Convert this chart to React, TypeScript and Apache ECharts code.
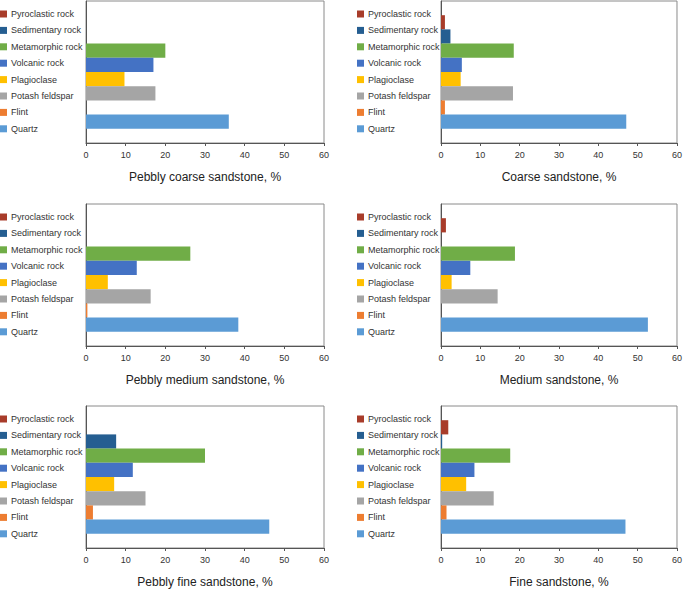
import React, { useEffect, useRef } from "react";
import * as echarts from "echarts";

const rockTypes = [
  "Pyroclastic rock",
  "Sedimentary rock",
  "Metamorphic rock",
  "Volcanic rock",
  "Plagioclase",
  "Potash feldspar",
  "Flint",
  "Quartz",
];

const rockColors = [
  "#A83C2A",
  "#255E91",
  "#70AD47",
  "#4472C4",
  "#FFC000",
  "#A5A5A5",
  "#ED7D31",
  "#5B9BD5",
];

const panelTitles = [
  "Pebbly coarse sandstone, %",
  "Coarse sandstone, %",
  "Pebbly medium sandstone, %",
  "Medium sandstone, %",
  "Pebbly fine sandstone, %",
  "Fine sandstone, %",
];

// values in rockTypes order
const pebblyCoarse = [0, 0, 20, 17, 9.7, 17.5, 0, 36];
const coarse = [1, 2.4, 18.5, 5.3, 5, 18.3, 1, 47.1];
const pebblyMedium = [0, 0, 26.3, 12.8, 5.5, 16.3, 0.35, 38.4];
const medium = [1.25, 0, 18.8, 7.45, 2.7, 14.4, 0, 52.6];
const pebblyFine = [0, 7.6, 30, 11.8, 7.1, 15, 1.75, 46.2];
const fine = [1.85, 0.3, 17.6, 8.5, 6.4, 13.4, 1.4, 46.9];

const panelValues = [pebblyCoarse, coarse, pebblyMedium, medium, pebblyFine, fine];

const xTicks = { min: 0, max: 60, interval: 10 };

export default function App() {
  const ref = useRef<HTMLDivElement>(null);

  useEffect(() => {
    if (!ref.current) return;
    const chart = echarts.init(ref.current, null, { renderer: "svg" });

    const rowTops = [1, 204, 406];
    const colLefts = [86, 441];
    const colWidths = [238, 239];
    const legendLefts = [0, 357];
    const plotH = 142;

    const grids: any[] = [];
    const xAxes: any[] = [];
    const yAxes: any[] = [];
    const legends: any[] = [];
    const series: any[] = [];

    panelValues.forEach((vals, p) => {
      const row = Math.floor(p / 2);
      const col = p % 2;
      grids.push({
        left: colLefts[col],
        top: rowTops[row],
        width: colWidths[col],
        height: plotH,
        show: true,
        borderColor: "#8a8a8a",
        borderWidth: 1,
        backgroundColor: "#fff",
        containLabel: false,
      });
      xAxes.push({
        type: "value",
        gridIndex: p,
        min: xTicks.min,
        max: xTicks.max,
        interval: xTicks.interval,
        name: panelTitles[p],
        nameLocation: "middle",
        nameGap: 28,
        nameTextStyle: { fontFamily: "Liberation Sans", fontSize: 12, color: "#222" },
        axisLine: { show: true, lineStyle: { color: "#555", width: 1 } },
        axisTick: { show: true, length: 3, lineStyle: { color: "#555" } },
        axisLabel: { fontFamily: "Liberation Sans", fontSize: 9, color: "#333", margin: 7 },
        splitLine: { show: false },
      });
      yAxes.push({
        type: "category",
        gridIndex: p,
        data: [""],
        axisLine: { show: true, lineStyle: { color: "#555", width: 1 } },
        axisTick: { show: false },
        axisLabel: { show: false },
        splitLine: { show: false },
      });
      legends.push({
        orient: "vertical",
        left: legendLefts[col],
        top: rowTops[row] + 8.5,
        itemWidth: 7,
        itemHeight: 7,
        itemGap: 7.4,
        icon: "rect",
        padding: 0,
        selectedMode: false,
        textStyle: { fontFamily: "Liberation Sans", fontSize: 9, color: "#333", padding: [0, 0, 0, -1] },
        data: rockTypes,
      });
      rockTypes.forEach((name, i) => {
        series.push({
          type: "bar",
          name,
          xAxisIndex: p,
          yAxisIndex: p,
          data: [vals[i]],
          barGap: "0%",
          barCategoryGap: "20%",
          itemStyle: { color: rockColors[i] },
          silent: true,
        });
      });
    });

    chart.setOption({
      animation: false,
      color: rockColors,
      grid: grids,
      xAxis: xAxes,
      yAxis: yAxes,
      legend: legends,
      series,
    });

    return () => chart.dispose();
  }, []);

  return (
    <div
      ref={ref}
      style={{ position: "absolute", left: 0, top: 0, width: 685, height: 589, background: "#fff" }}
    />
  );
}
